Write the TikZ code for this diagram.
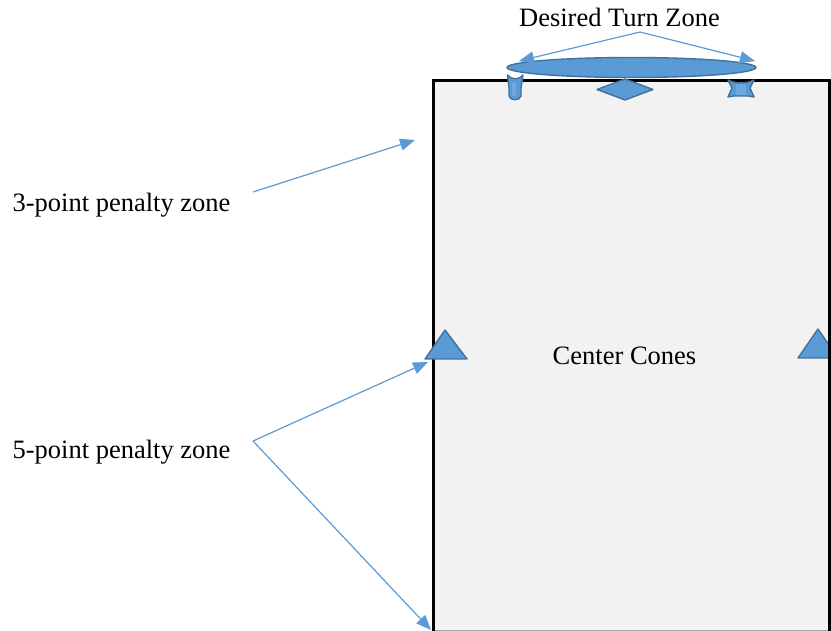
\documentclass[tikz,border=0pt]{standalone}
\usepackage{fontspec}
\setmainfont{Liberation Serif}
\usetikzlibrary{arrows.meta}
\definecolor{coneblue}{HTML}{5B9BD5}
\definecolor{coneedge}{HTML}{41719C}
\definecolor{conelight}{HTML}{6FA8DC}
\definecolor{fieldgray}{HTML}{F2F2F2}
\begin{document}
\begin{tikzpicture}[x=1pt,y=-1pt,
  label text/.style={font=\fontsize{26.5}{30}\selectfont, inner sep=0pt, anchor=base},
  pointer/.style={draw=coneblue, line width=1.2pt,
    -{Triangle[length=15pt,width=12pt]}},
  marker/.style={fill=coneblue, draw=coneedge, line width=1.4pt, line join=round},
  border/.style={line width=3pt, line cap=rect}]
\useasboundingbox (0,0) rectangle (831,631);

% the field
\fill[fieldgray] (433,81) rectangle (829,631);
\draw[gray!70, line width=0.8pt] (433,630.5) -- (829,630.5);

% right centre cone, partly hidden by the field's edge
\draw[marker] (818,329) coordinate (rc) -- (838,358) -- (798,358) -- cycle;

\draw[border] (433,631) -- (433,81) -- (829,81) -- (829,631);

% left centre cone
\draw[marker] (445,330) coordinate (lc) -- (467,359) -- (425,359) -- cycle;

% turn-zone cones
\draw[marker] (507.5,75) .. controls (511,80) and (520,80) .. (523,75)
  -- (521,88) -- (521,96) .. controls (520,101) and (510,101) .. (509,96)
  -- (509,88) -- cycle;
\fill[conelight] (512,83) rectangle (516,96);
\draw[marker] (728,80) .. controls (736,84) and (746,84) .. (754,80)
  -- (750,88) -- (754,97) -- (748,96) -- (734,96) -- (728,97) -- (732,88) -- cycle;
\fill[conelight] (736,84) rectangle (746,95);

% turn marker and turn zone
\draw[marker] (625,79) -- (653,89.5) -- (625,100) -- (597,89.5) -- cycle;
\draw[marker] (631.5,67.5) ellipse [x radius=124.5, y radius=10];

% labels
\node[label text] (turn) at (619.5,27) {Desired Turn Zone};
\node[label text] (centre) at (624.5,365) {Center Cones};
\node[label text] (three) at (121.5,212) {3-point penalty zone};
\node[label text] (five) at (121.5,458) {5-point penalty zone};

% pointers
\coordinate (turnfrom) at (640,32);
\coordinate (turnleft) at (519,61);
\coordinate (turnright) at (755,61);
\coordinate (threefrom) at (253,192);
\coordinate (threeto) at (415,140);
\coordinate (fivefrom) at (253,441);
\coordinate (fiveup) at (428,362);
\coordinate (fivedown) at (431,630);

\draw[pointer] (turnfrom) -- (turnleft);
\draw[pointer] (turnfrom) -- (turnright);
\draw[pointer] (threefrom) -- (threeto);
\draw[pointer] (fivefrom) -- (fiveup);
\draw[pointer] (fivefrom) -- (fivedown);
\end{tikzpicture}
\end{document}
